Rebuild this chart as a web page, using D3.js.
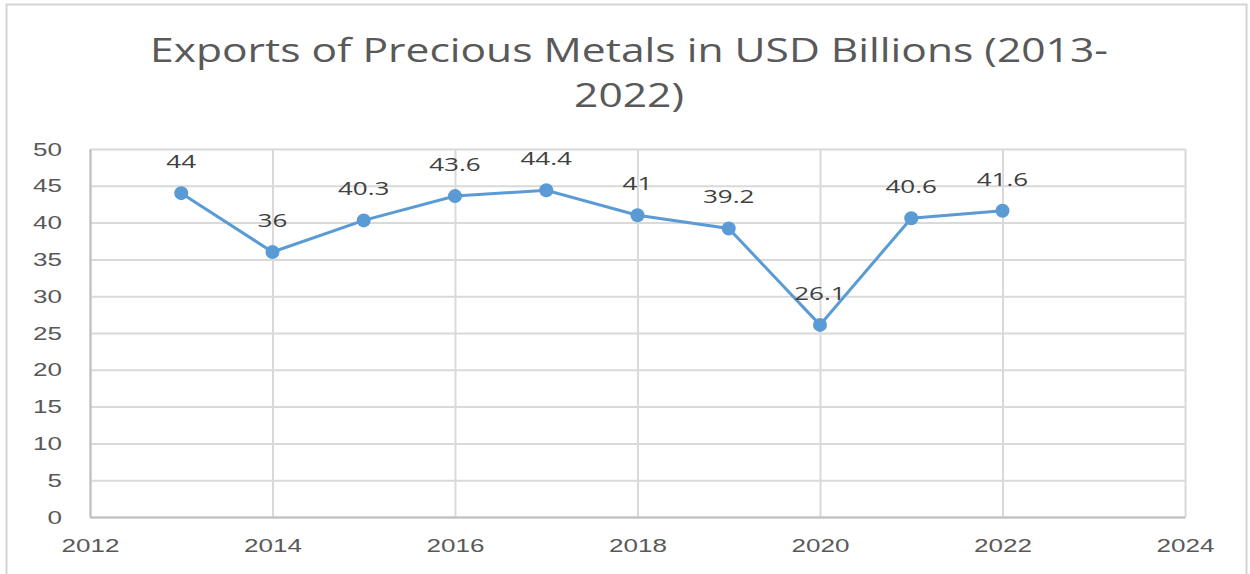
<!DOCTYPE html>
<meta charset="utf-8">
<head>
	<title>Exports of Precious Metals</title>
	<script src="https://cdnjs.cloudflare.com/ajax/libs/d3/7.8.5/d3.min.js"></script>
</head>
<style>
	body { margin: 0; background: #fff; }
	svg { display: block; font-family: "Open Sans", sans-serif; }
	.tick text { fill: #595959; }
</style>
<body>
<script>
	// data
	var years = [2013, 2014, 2015, 2016, 2017, 2018, 2019, 2020, 2021, 2022];
	var exports = [44, 36, 40.3, 43.6, 44.4, 41, 39.2, 26.1, 40.6, 41.6];
	var xTicks = [2012, 2014, 2016, 2018, 2020, 2022, 2024];
	var yTicks = [0, 5, 10, 15, 20, 25, 30, 35, 40, 45, 50];
	var titleLines = ["Exports of Precious Metals in USD Billions (2013-", "2022)"];

	var W = 1250, H = 574;
	var margin = {top: 149, right: 65, bottom: 57, left: 90};
	var width = W - margin.left - margin.right,
	    height = H - margin.top - margin.bottom;

	// the source picture is stretched sideways, so widen the glyphs to match
	function stretch(sel, k) {
		sel.each(function() {
			var len = this.getComputedTextLength();
			d3.select(this)
				.attr("textLength", len * k)
				.attr("lengthAdjust", "spacingAndGlyphs");
		});
	}

	var svg = d3.select("body").append("svg")
		.attr("width", W)
		.attr("height", H);

	// outer chart frame
	svg.append("rect")
		.attr("x", 6.5).attr("y", 4.5)
		.attr("width", W - 10).attr("height", H)
		.attr("fill", "none")
		.attr("stroke", "#d4d4d4")
		.attr("stroke-width", 2);

	svg.selectAll(".title")
		.data(titleLines)
	 .enter().append("text")
		.attr("class", "title")
		.attr("x", 629)
		.attr("y", function(d, i) { return 62 + i * 45; })
		.attr("text-anchor", "middle")
		.attr("fill", "#595959")
		.style("font-size", "32px")
		.text(function(d) { return d; })
		.call(stretch, 1.33);

	var g = svg.append("g")
		.attr("transform", "translate(" + margin.left + "," + margin.top + ")");

	var x = d3.scaleLinear().domain([2012, 2024]).range([0, width]);
	var y = d3.scaleLinear().domain([0, 50]).range([height, 0]);

	// gridlines
	g.append("g")
		.call(d3.axisLeft(y).tickValues(yTicks).tickSize(-width).tickFormat(""))
		.call(function(s) {
			s.select(".domain").remove();
			s.selectAll("line").attr("stroke", "#d9d9d9").attr("stroke-width", 2);
		});

	g.append("g")
		.call(d3.axisBottom(x).tickValues(xTicks).tickSize(height).tickFormat(""))
		.call(function(s) {
			s.select(".domain").remove();
			s.selectAll("line").attr("stroke", "#d9d9d9").attr("stroke-width", 2);
		});

	// axis lines + labels
	g.append("g")
		.call(d3.axisLeft(y).tickValues(yTicks).tickSize(0).tickPadding(28))
		.call(function(s) {
			s.select(".domain").attr("stroke", "#bfbfbf").attr("stroke-width", 2);
			s.selectAll("text").style("font-size", "19px").call(stretch, 1.37);
		});

	g.append("g")
		.attr("transform", "translate(0," + height + ")")
		.call(d3.axisBottom(x).tickValues(xTicks).tickSize(0).tickPadding(22).tickFormat(d3.format("d")))
		.call(function(s) {
			s.select(".domain").attr("stroke", "#bfbfbf").attr("stroke-width", 2);
			s.selectAll("text").style("font-size", "19px").call(stretch, 1.37);
		});

	var pts = years.map(function(d, i) { return {year: d, value: exports[i]}; });

	g.append("path")
		.datum(pts)
		.attr("fill", "none")
		.attr("stroke", "#5b9bd5")
		.attr("stroke-width", 3)
		.attr("d", d3.line()
			.x(function(d) { return x(d.year); })
			.y(function(d) { return y(d.value); }));

	g.selectAll(".dot")
		.data(pts)
	 .enter().append("circle")
		.attr("class", "dot")
		.attr("cx", function(d) { return x(d.year); })
		.attr("cy", function(d) { return y(d.value); })
		.attr("r", 7)
		.attr("fill", "#5b9bd5");

	g.selectAll(".lbl")
		.data(pts)
	 .enter().append("text")
		.attr("class", "lbl")
		.attr("x", function(d) { return x(d.year); })
		.attr("y", function(d) { return y(d.value) - 25; })
		.attr("text-anchor", "middle")
		.attr("fill", "#404040")
		.style("font-size", "19px")
		.text(function(d) { return d.value; })
		.call(stretch, 1.37);
</script>
</body>
